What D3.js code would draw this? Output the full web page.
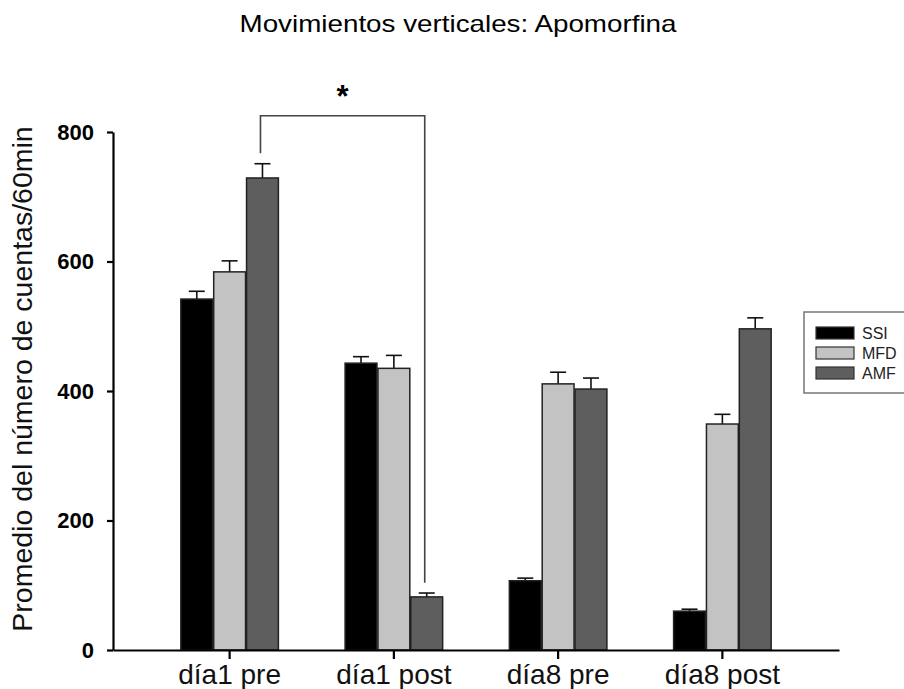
<!DOCTYPE html>
<html>
<head>
<meta charset="utf-8">
<script src="https://cdn.jsdelivr.net/npm/d3@7"></script>
<style>
    body { margin: 0; background: #fff; }
    svg { display: block; font-family: "Liberation Sans", Arial, sans-serif; }
</style>
</head>
<body>
<div id="chart"></div>
<script>
// groups and series
const groups = ["día1 pre", "día1 post", "día8 pre", "día8 post"];
const series = ["SSI", "MFD", "AMF"];

// means
const ssiMean = [542, 443, 107, 60];
const mfdMean = [584, 435, 411, 349];
const amfMean = [729, 82, 403, 496];

// error (upper whisker only)
const ssiErr = [12, 10, 4, 3];
const mfdErr = [17, 20, 18, 15];
const amfErr = [22, 6, 17, 17];

const yTicks = [0, 200, 400, 600, 800];

// significance bracket between AMF bars
const bracketTop = 825;
const bracketGap = 16;

const colors = {SSI: "#000000", MFD: "#c3c3c3", AMF: "#5e5e5e"};

let width = 904, height = 689;

let svg = d3.select("#chart").append("svg")
    .attr("width", width)
    .attr("height", height);

let means = {SSI: ssiMean, MFD: mfdMean, AMF: amfMean};
let errs = {SSI: ssiErr, MFD: mfdErr, AMF: amfErr};

let data = [];
groups.forEach((g, i) => {
    series.forEach(s => {
        data.push({group: g, series: s, value: means[s][i], err: errs[s][i]});
    });
});

let x = d3.scaleBand()
    .domain(groups)
    .range([113, 839])
    .paddingInner(0.4)
    .paddingOuter(0.41);

let xs = d3.scaleBand()
    .domain(series)
    .range([0, x.bandwidth()]);

let y = d3.scaleLinear()
    .domain([0, 800])
    .range([650, 132]);

// title
svg.append("text")
    .attr("x", 458)
    .attr("y", 32)
    .attr("text-anchor", "middle")
    .attr("font-size", 24)
    .attr("textLength", 437)
    .attr("lengthAdjust", "spacingAndGlyphs")
    .text("Movimientos verticales: Apomorfina");

// error bars
let eb = svg.append("g").selectAll("g")
    .data(data)
    .enter()
    .append("g")
    .attr("stroke", "#111")
    .attr("stroke-width", 1.6);

eb.append("line")
    .attr("x1", d => x(d.group) + xs(d.series) + xs.bandwidth() / 2)
    .attr("x2", d => x(d.group) + xs(d.series) + xs.bandwidth() / 2)
    .attr("y1", d => y(d.value))
    .attr("y2", d => y(d.value + d.err));

eb.append("line")
    .attr("x1", d => x(d.group) + xs(d.series) + xs.bandwidth() / 2 - 8)
    .attr("x2", d => x(d.group) + xs(d.series) + xs.bandwidth() / 2 + 8)
    .attr("y1", d => y(d.value + d.err))
    .attr("y2", d => y(d.value + d.err));

// bars
svg.append("g").selectAll("rect")
    .data(data)
    .enter()
    .append("rect")
    .attr("x", d => x(d.group) + xs(d.series) + 0.5)
    .attr("y", d => y(d.value))
    .attr("width", xs.bandwidth() - 1)
    .attr("height", d => y(0) - y(d.value))
    .attr("fill", d => colors[d.series])
    .attr("stroke", "#222")
    .attr("stroke-width", 1.5);

// axes
let yAxis = svg.append("g")
    .attr("transform", "translate(113,0)")
    .call(d3.axisLeft(y).tickValues(yTicks).tickSize(6).tickSizeOuter(0).tickPadding(13));

let xAxis = svg.append("g")
    .attr("transform", "translate(0,650)")
    .call(d3.axisBottom(x).tickSize(9).tickSizeOuter(0).tickPadding(5));

[yAxis, xAxis].forEach(a => {
    a.select(".domain").attr("stroke", "#000").attr("stroke-width", 2.2);
    a.selectAll(".tick line").attr("stroke", "#000").attr("stroke-width", 2.2);
});

yAxis.selectAll(".tick text")
    .attr("font-size", 22)
    .attr("font-weight", "bold")
    .attr("font-family", "Liberation Sans, Arial, sans-serif")
    .attr("fill", "#000");

xAxis.selectAll(".tick text")
    .attr("font-size", 28)
    .attr("font-family", "Liberation Sans, Arial, sans-serif")
    .attr("fill", "#111")
    .attr("dy", "0.71em");

// y label
svg.append("text")
    .attr("transform", "translate(32,379) rotate(-90)")
    .attr("text-anchor", "middle")
    .attr("font-size", 28.5)
    .attr("fill", "#111")
    .text("Promedio del número de cuentas/60min");

// significance bracket
let bx1 = x(groups[0]) + xs("AMF") + xs.bandwidth() / 2 - 2;
let bx2 = x(groups[1]) + xs("AMF") + xs.bandwidth() / 2 - 2;
let bl = y(amfMean[0] + amfErr[0] + bracketGap);
let br = y(amfMean[1] + amfErr[1] + bracketGap);
let bt = y(bracketTop);

svg.append("path")
    .attr("d", `M${bx1},${bl} V${bt} H${bx2} V${br}`)
    .attr("fill", "none")
    .attr("stroke", "#444")
    .attr("stroke-width", 1.6);

svg.append("text")
    .attr("x", (bx1 + bx2) / 2)
    .attr("y", bt - 9)
    .attr("text-anchor", "middle")
    .attr("font-size", 31)
    .attr("font-weight", "bold")
    .text("*");

// legend
let legend = svg.append("g");

legend.append("rect")
    .attr("x", 804)
    .attr("y", 312)
    .attr("width", 110)
    .attr("height", 81)
    .attr("fill", "#fff")
    .attr("stroke", "#777")
    .attr("stroke-width", 1.5);

series.forEach((s, i) => {
    legend.append("rect")
        .attr("x", 816)
        .attr("y", 327 + i * 20)
        .attr("width", 38)
        .attr("height", 12)
        .attr("fill", colors[s])
        .attr("stroke", "#333")
        .attr("stroke-width", 1.2);
    legend.append("text")
        .attr("x", 862)
        .attr("y", 339 + i * 20)
        .attr("font-size", 16)
        .attr("fill", "#222")
        .text(s);
});
</script>
</body>
</html>
